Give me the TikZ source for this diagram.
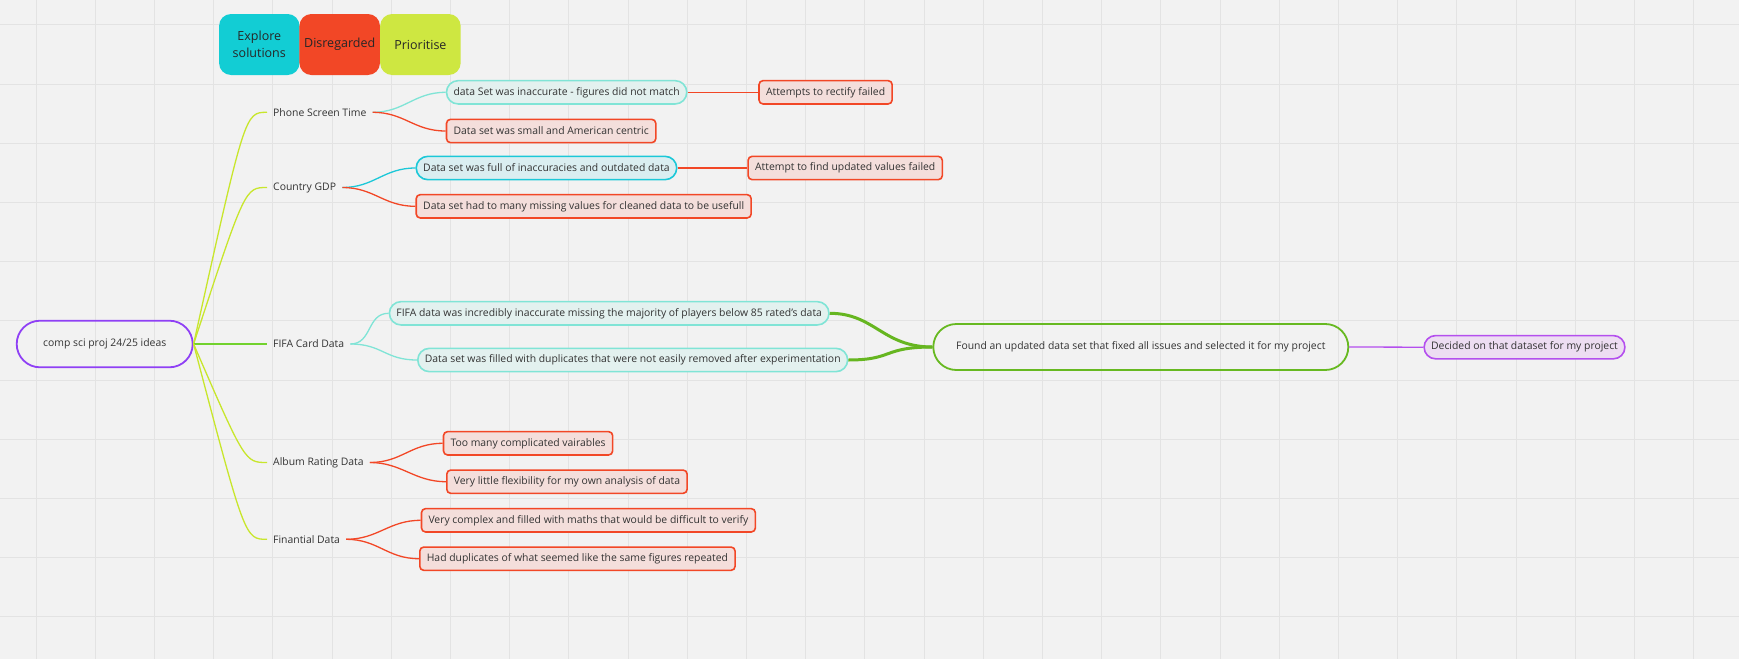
\documentclass[tikz,border=0pt]{standalone}
\usepackage{fontspec}
\setmainfont{Open Sans}
\usetikzlibrary{calc}
\definecolor{bgc}{HTML}{F2F2F2}
\definecolor{gridc}{HTML}{E3E3E3}
\definecolor{txt}{HTML}{333333}
\definecolor{legcyan}{HTML}{12CDD4}
\definecolor{legred}{HTML}{F24726}
\definecolor{leglime}{HTML}{CEE741}
\definecolor{redc}{HTML}{F24726}
\definecolor{redfill}{HTML}{F4DEDB}
\definecolor{tealc}{HTML}{80E4D6}
\definecolor{tealfill}{HTML}{E3F1EF}
\definecolor{cyanc}{HTML}{1CC8D8}
\definecolor{cyanfill}{HTML}{DAEEF1}
\definecolor{purc}{HTML}{8F40F5}
\definecolor{purc2}{HTML}{B44FEE}
\definecolor{purfill}{HTML}{EDDDF2}
\definecolor{limec}{HTML}{C8E62C}
\definecolor{greenc}{HTML}{72D22E}
\definecolor{darkgreen}{HTML}{66B620}
\begin{document}
\begin{tikzpicture}[x=1pt,y=-1pt,
  font=\fontsize{10.4}{12.5}\selectfont, text=txt,
  legbox/.style={minimum width=80.5pt, minimum height=61pt, rounded corners=12pt, align=center, inner sep=0pt, font=\fontsize{12.5}{16.7}\selectfont, text=black!85},
  lbl/.style={anchor=west, inner xsep=6pt, inner ysep=2pt},
  mmbox/.style={anchor=west, draw, line width=1.6pt, minimum height=23.3pt, inner xsep=7pt, inner ysep=0pt},
  redbox/.style={mmbox, draw=redc, fill=redfill, rounded corners=4pt},
  tealbox/.style={mmbox, draw=tealc, fill=tealfill, rounded corners=11.6pt},
  cyanbox/.style={mmbox, draw=cyanc, fill=cyanfill, rounded corners=11.6pt},
  purbox/.style={mmbox, draw=purc2, fill=purfill, rounded corners=11.6pt},
  conn/.style={line width=1.3pt}
]
\useasboundingbox (0,0) rectangle (1739,659);
\fill[bgc] (0,0) rectangle (1739,659);
\foreach \i in {0,...,28} \draw[gridc, line width=1pt] ({36+59.2*\i},0) -- ({36+59.2*\i},659);
\foreach \i in {0,...,10} \draw[gridc, line width=1pt] (0,{24.9+59.2*\i}) -- (1739,{24.9+59.2*\i});

% legend
\node[legbox, fill=legcyan] (lexp) at (259.3,44.5) {Explore\\solutions};
\node[legbox, fill=legred] (ldis) at (339.7,44.5) {Disregarded};
\node[legbox, fill=leglime] (lpri) at (420.4,44.5) {Prioritise};

% root
\node[draw=purc, line width=1.8pt, minimum width=176pt, minimum height=46.6pt, rounded corners=23.3pt, inner sep=0pt] (root) at (104.7,344) {comp sci proj 24/25 ideas};

% children
\node[lbl] (phone) at (267,112.3) {Phone Screen Time};
\node[lbl] (gdp) at (267,187.5) {Country GDP};
\node[lbl] (fifa) at (267,344) {FIFA Card Data};
\node[lbl] (album) at (267,462.5) {Album Rating Data};
\node[lbl] (fin) at (267,539.3) {Finantial Data};

% boxes
\node[tealbox] (b1) at (445.7,92.3) {data Set was inaccurate - figures did not match};
\node[redbox] (b1r) at (758.2,92.3) {Attempts to rectify failed};
\node[redbox] (b2) at (445.7,131) {Data set was small and American centric};
\node[cyanbox] (c1) at (415.4,168) {Data set was full of inaccuracies and outdated data};
\node[redbox] (c1r) at (747.3,168) {Attempt to find updated values failed};
\node[redbox] (c2) at (415.4,206.3) {Data set had to many missing values for cleaned data to be usefull};
\node[tealbox] (f1) at (388.6,313.3) {FIFA data was incredibly inaccurate missing the majority of players below 85 rated's data};
\node[tealbox] (f2) at (417,360) {Data set was filled with duplicates that were not easily removed after experimentation};
\node[draw=darkgreen!90!greenc, line width=1.8pt, minimum width=415pt, minimum height=46pt, rounded corners=23pt, inner sep=0pt] (found) at (1140.8,347) {Found an updated data set that fixed all issues and selected it for my project};
\node[purbox] (dec) at (1423.3,347.2) {Decided on that dataset for my project};
\node[redbox] (a1) at (442.7,443.3) {Too many complicated vairables};
\node[redbox] (a2) at (446,481.7) {Very little flexibility for my own analysis of data};
\node[redbox] (n1) at (420.7,520.3) {Very complex and filled with maths that would be difficult to verify};
\node[redbox] (n2) at (419,558.7) {Had duplicates of what seemed like the same figures repeated};

% root to children
\draw[conn, limec] (root.east) .. controls ($(phone.west)+(-22,0)$) .. (phone.west);
\draw[conn, limec] (root.east) .. controls ($(gdp.west)+(-22,0)$) .. (gdp.west);
\draw[conn, greenc] (root.east) -- (fifa.west);
\draw[conn, limec] (root.east) .. controls ($(album.west)+(-22,0)$) .. (album.west);
\draw[conn, limec] (root.east) .. controls ($(fin.west)+(-22,0)$) .. (fin.west);

% children to boxes
\draw[conn, tealc] (phone.east) .. controls +(32,0) and +(-32,0) .. (b1.west);
\draw[conn, redc] (phone.east) .. controls +(32,0) and +(-32,0) .. (b2.west);
\draw[conn, redc] (b1.east) -- (b1r.west);
\draw[conn, cyanc] (gdp.east) .. controls +(32,0) and +(-32,0) .. (c1.west);
\draw[conn, redc] (gdp.east) .. controls +(32,0) and +(-32,0) .. (c2.west);
\draw[conn, redc] (c1.east) -- (c1r.west);
\draw[conn, tealc] (fifa.east) .. controls +(22,0) and +(-22,0) .. (f1.west);
\draw[conn, tealc] (fifa.east) .. controls +(32,0) and +(-32,0) .. (f2.west);
\draw[line width=3pt, darkgreen] (f1.east) .. controls +(45,0) and +(-50,0) .. (found.west);
\draw[line width=3pt, darkgreen] (f2.east) .. controls +(45,0) and +(-50,0) .. (found.west);
\draw[conn, purc2] (found.east) -- (dec.west);
\draw[conn, redc] (album.east) .. controls +(32,0) and +(-32,0) .. (a1.west);
\draw[conn, redc] (album.east) .. controls +(32,0) and +(-32,0) .. (a2.west);
\draw[conn, redc] (fin.east) .. controls +(32,0) and +(-32,0) .. (n1.west);
\draw[conn, redc] (fin.east) .. controls +(32,0) and +(-32,0) .. (n2.west);
\end{tikzpicture}
\end{document}
